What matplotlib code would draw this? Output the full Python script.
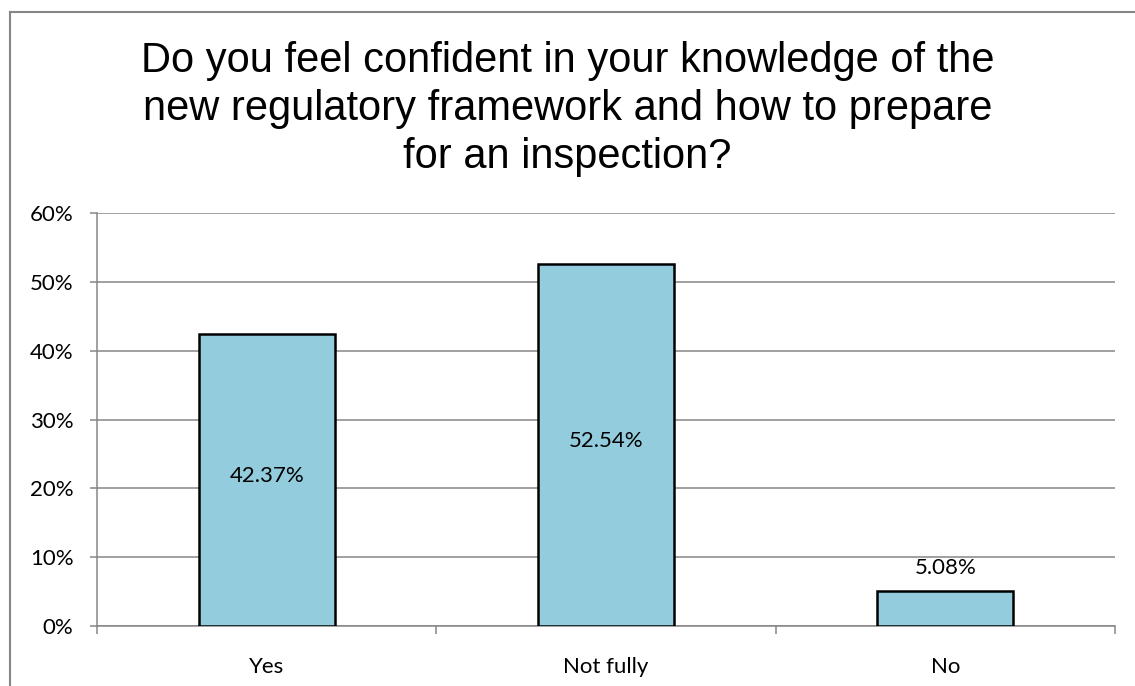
import matplotlib
matplotlib.use("Agg")
import matplotlib.pyplot as plt
from matplotlib.lines import Line2D
from matplotlib.ticker import FuncFormatter
import numpy as np

# chart data
categories = ["Yes", "Not fully", "No"]
values = [42.37, 52.54, 5.08]
labels = ["42.37%", "52.54%", "5.08%"]
yticks = [0, 10, 20, 30, 40, 50, 60]
title_lines = ["Do you feel confident in your knowledge of the",
               "new regulatory framework and how to prepare",
               "for an inspection?"]

bar_color = "#93CDDD"
grid_color = "#868686"
W, H = 1135, 686

fig = plt.figure(figsize=(W / 100, H / 100), dpi=100)
ax = fig.add_axes([97 / W, 1 - 626 / H, (1115 - 97) / W, (626 - 213) / H])

x = np.arange(len(categories))
ax.bar(x, values, width=0.4, color=bar_color, edgecolor="black", linewidth=1.8, zorder=3)

ax.set_xlim(-0.5, len(categories) - 0.5)
ax.set_ylim(0, 60)
ax.set_yticks(yticks)
ax.yaxis.set_major_formatter(FuncFormatter(lambda v, p: f"{v:.0f}%"))
ax.grid(axis="y", color=grid_color, linewidth=1.1, zorder=0)

# category boundary ticks on x axis
ax.set_xticks(np.arange(-0.5, len(categories), 1.0))
ax.set_xticklabels([])
ax.set_xticks(x, minor=True)
ax.set_xticklabels(categories, minor=True)
ax.tick_params(axis="x", which="major", length=6, color=grid_color, width=1.1, direction="out")
ax.tick_params(axis="x", which="minor", length=0, pad=22)
ax.tick_params(axis="y", length=5, color=grid_color, width=1.1, pad=12)

for lab in ax.get_xticklabels(minor=True) + ax.get_yticklabels():
    lab.set_fontfamily("Lato")
    lab.set_fontsize(16)

for s in ["top", "right"]:
    ax.spines[s].set_visible(False)
for s in ["left", "bottom"]:
    ax.spines[s].set_color(grid_color)
    ax.spines[s].set_linewidth(1.1)

# data labels
for xi, v, t in zip(x, values, labels):
    if v > 10:
        ax.text(xi, v / 2 + 0.6, t, ha="center", va="center", fontsize=16, family="Lato", zorder=4)
    else:
        ax.text(xi, v + 1.9, t, ha="center", va="bottom", fontsize=16, family="Lato", zorder=4)

# title, one baseline per line
for i, line in enumerate(title_lines):
    fig.text(0.5, 1 - (72 + 48 * i) / H, line, ha="center", va="baseline",
             fontsize=30, family="Liberation Sans")

# outer chart border (top and left edges visible)
fig.add_artist(Line2D([9.5 / W, 1], [1 - 11.5 / H, 1 - 11.5 / H], transform=fig.transFigure,
                      color=grid_color, linewidth=1.5))
fig.add_artist(Line2D([9.5 / W, 9.5 / W], [0, 1 - 11.5 / H], transform=fig.transFigure,
                      color=grid_color, linewidth=1.5))

fig.savefig("out.png", dpi=100)
